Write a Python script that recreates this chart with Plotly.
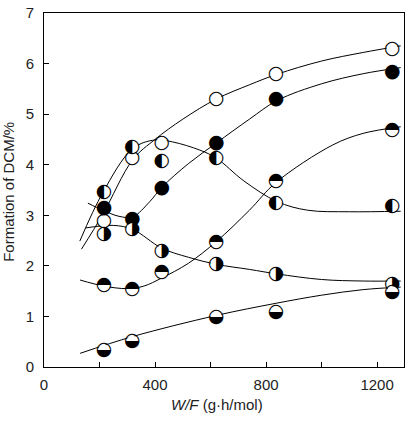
import plotly.graph_objects as go

# ---- data ----
wf = [216, 318, 424, 621, 836, 1255]
open_y = [2.88, 4.12, 4.42, 5.29, 5.79, 6.28]
filled_y = [3.13, 2.93, 3.53, 4.43, 5.30, 5.83]
lefthalf_y = [3.45, 4.35, 4.06, 4.12, 3.24, 3.18]
righthalf_y = [2.62, 2.73, 2.29, 2.03, 1.84, 1.64]
upperhalf_y = [1.61, 1.54, 1.87, 2.47, 3.67, 4.69]
lowerhalf_x = [216, 318, 621, 836, 1255]
lowerhalf_y = [0.33, 0.50, 0.98, 1.08, 1.48]

# fitted curves
curveA_x = [135, 212, 320, 400, 500, 621, 740, 840, 1000, 1150, 1285]
curveA_y = [2.33, 3.02, 4.10, 4.50, 4.90, 5.30, 5.58, 5.79, 6.05, 6.22, 6.35]
curveB_x = [158, 212, 270, 320, 381, 424, 520, 621, 740, 840, 1000, 1150, 1285]
curveB_y = [3.24, 3.10, 2.98, 2.97, 3.27, 3.55, 4.02, 4.43, 4.90, 5.27, 5.60, 5.80, 5.92]
curveC_x = [129, 212, 320, 400, 464, 561, 621, 720, 840, 950, 1100, 1285]
curveC_y = [2.49, 3.45, 4.32, 4.49, 4.45, 4.29, 4.13, 3.68, 3.27, 3.10, 3.07, 3.08]
curveD_x = [150, 250, 320, 424, 520, 621, 740, 840, 1000, 1150, 1285]
curveD_y = [2.75, 2.80, 2.72, 2.35, 2.17, 2.03, 1.93, 1.84, 1.73, 1.70, 1.70]
curveE_x = [130, 216, 300, 360, 424, 520, 621, 740, 836, 1040, 1150, 1285]
curveE_y = [1.72, 1.60, 1.55, 1.60, 1.76, 2.05, 2.48, 3.10, 3.65, 4.39, 4.62, 4.75]
curveF_x = [130, 318, 621, 836, 1000, 1150, 1285]
curveF_y = [0.27, 0.60, 1.02, 1.26, 1.42, 1.53, 1.58]

x_tickvals = [0, 200, 400, 600, 800, 1000, 1200]
x_ticktext = ["0", "", "400", "", "800", "", "1200"]
y_tickvals = [0, 1, 2, 3, 4, 5, 6, 7]

fig = go.Figure()

for cx, cy in [(curveA_x, curveA_y), (curveB_x, curveB_y), (curveC_x, curveC_y),
               (curveD_x, curveD_y), (curveE_x, curveE_y), (curveF_x, curveF_y)]:
    fig.add_trace(go.Scatter(x=cx, y=cy, mode="lines",
                             line=dict(color="black", width=1, shape="spline", smoothing=1),
                             hoverinfo="skip", showlegend=False))

series = [
    (wf, open_y, "\u25CB"),
    (wf, filled_y, "\u25CF"),
    (wf, lefthalf_y, "\u25D0"),
    (wf, righthalf_y, "\u25D1"),
    (wf, upperhalf_y, "\u25D3"),
    (lowerhalf_x, lowerhalf_y, "\u25D2"),
]
for sx, sy, glyph in series:
    fig.add_trace(go.Scatter(x=sx, y=sy, mode="markers",
                             marker=dict(symbol="circle", size=12, color="white"),
                             hoverinfo="skip", showlegend=False))
    fig.add_trace(go.Scatter(x=sx, y=sy, mode="text", text=[glyph] * len(sx),
                             textposition="middle center",
                             textfont=dict(family="DejaVu Sans", size=19, color="black"),
                             hoverinfo="skip", showlegend=False))

tickfont = dict(family="Liberation Sans, Arial", size=15, color="#222")
fig.update_layout(
    width=409, height=421,
    margin=dict(l=44, r=4, t=10, b=54),
    paper_bgcolor="white", plot_bgcolor="white",
    xaxis=dict(range=[0, 1297], tickvals=x_tickvals, ticktext=x_ticktext,
               ticks="inside", ticklen=5, tickcolor="black", tickwidth=1,
               showline=True, linecolor="black", linewidth=1, mirror=True,
               showgrid=False, zeroline=False, tickfont=tickfont, ticklabelstandoff=4),
    yaxis=dict(range=[0, 7], tickvals=y_tickvals,
               ticks="inside", ticklen=5, tickcolor="black", tickwidth=1,
               showline=True, linecolor="black", linewidth=1, mirror=True,
               showgrid=False, zeroline=False, tickfont=tickfont, ticklabelstandoff=6),
    annotations=[
        dict(text="<i>W/F</i> (g\u00B7h/mol)", xref="paper", yref="paper",
             x=0.48, y=-0.106, xanchor="center", yanchor="middle", showarrow=False,
             font=dict(family="Liberation Sans, Arial", size=15, color="#222")),
        dict(text="Formation of DCM/%", xref="paper", yref="paper",
             x=-0.097, y=0.495, xanchor="center", yanchor="middle", textangle=-90,
             showarrow=False,
             font=dict(family="Liberation Sans, Arial", size=15, color="#222")),
    ],
)

fig.write_html("out.html")
